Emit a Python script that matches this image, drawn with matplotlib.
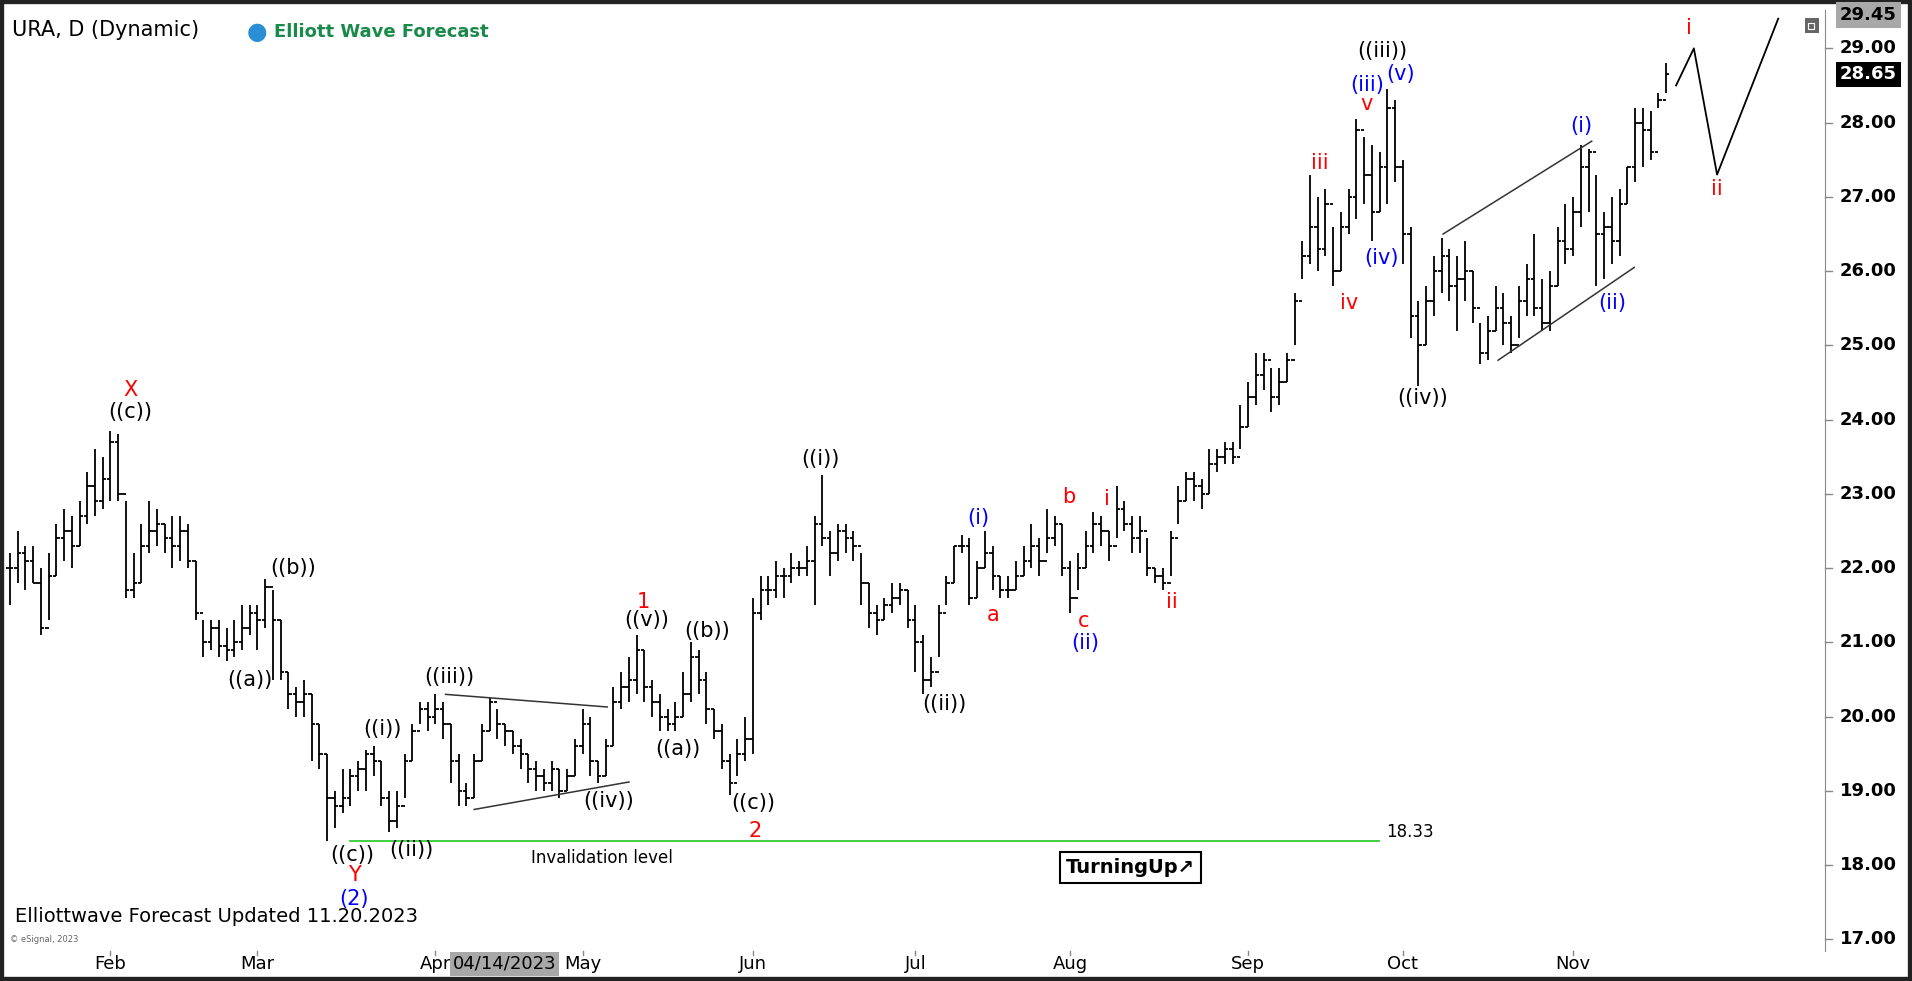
import matplotlib
matplotlib.use("Agg")
import matplotlib.pyplot as plt
import numpy as np
import pandas as pd
from matplotlib.patches import Rectangle

# ---------------- data ----------------
holidays = ["2023-01-16", "2023-02-20", "2023-04-07", "2023-05-29", "2023-06-19", "2023-07-04", "2023-09-04"]
dates = [d for d in pd.bdate_range("2023-01-12", "2023-11-17") if d.strftime("%Y-%m-%d") not in holidays]

closes = [
 # Jan
 22.0,22.2,22.1,21.8,21.2,21.9,22.4,22.5,22.3,22.7,23.1,22.9,23.2,
 # Feb
 23.7,23.0,21.7,21.8,22.3,22.5,22.6,22.4,22.3,22.5,22.1,21.4,21.0,21.2,20.95,20.9,21.0,21.2,21.4,
 # Mar
 21.3,21.75,21.3,20.6,20.3,20.2,20.3,19.9,19.5,18.9,18.8,18.9,19.2,19.3,19.5,19.4,18.9,18.6,18.8,19.4,19.8,20.1,20.0,
 # Apr
 20.1,19.9,19.4,19.0,18.9,19.4,19.8,20.2,19.9,19.8,19.6,19.5,19.3,19.2,19.1,19.3,19.0,19.2,19.6,
 # May
 19.9,19.4,19.2,19.6,20.2,20.4,20.5,20.9,20.4,20.2,20.0,19.9,20.0,20.3,20.8,20.5,20.1,19.8,19.4,19.1,19.5,19.7,
 # Jun
 21.4,21.7,21.7,21.9,21.9,22.0,22.0,22.1,22.6,22.4,22.2,22.5,22.4,22.3,21.8,21.4,21.3,21.5,21.6,21.7,21.3,
 # Jul
 21.0,20.5,20.6,21.4,21.8,22.3,22.3,21.6,22.0,22.2,21.9,21.7,21.7,21.9,22.1,22.3,22.1,22.4,22.6,22.0,
 # Aug
 21.6,22.0,22.3,22.6,22.5,22.3,22.8,22.6,22.4,22.5,22.0,21.9,21.8,22.4,22.9,23.2,23.1,23.0,23.4,23.5,23.6,23.5,23.9,
 # Sep
 24.3,24.6,24.8,24.3,24.5,24.8,25.6,26.2,26.6,26.3,26.9,26.0,26.6,27.0,27.9,27.3,26.8,27.4,28.2,27.4,
 # Oct
 26.5,25.4,25.0,25.6,26.0,26.2,25.8,25.9,26.0,25.5,24.9,25.2,25.5,25.3,25.0,25.6,25.9,25.5,25.3,25.8,26.4,26.3,
 # Nov
 26.8,27.4,27.6,26.5,26.6,26.4,26.9,27.4,28.0,27.9,27.6,28.3,28.65,
]
highs = [
 22.2,22.5,22.3,22.3,22.0,22.2,22.6,22.8,22.7,22.9,23.3,23.6,23.5,
 23.85,23.8,22.9,22.2,22.6,22.9,22.8,22.6,22.7,22.7,22.6,22.1,21.3,21.3,21.3,21.2,21.3,21.5,21.5,
 21.5,21.85,21.7,21.3,20.6,20.4,20.5,20.3,19.9,19.5,19.0,19.3,19.3,19.4,19.55,19.6,19.4,19.0,19.0,19.5,19.9,20.2,20.2,
 20.3,20.2,19.9,19.5,19.1,19.5,19.9,20.25,20.1,19.9,19.8,19.7,19.5,19.4,19.3,19.4,19.3,19.3,19.7,
 20.1,20.0,19.4,19.7,20.4,20.6,20.8,21.1,20.9,20.5,20.3,20.1,20.2,20.6,21.0,20.9,20.6,20.1,19.9,19.5,19.7,20.0,
 21.6,21.9,21.9,22.1,22.0,22.2,22.1,22.3,22.7,23.25,22.5,22.6,22.6,22.5,22.2,21.8,21.5,21.6,21.8,21.8,21.7,
 21.5,21.1,20.8,21.5,21.9,22.3,22.45,22.4,22.1,22.5,22.3,21.9,21.9,22.1,22.3,22.6,22.4,22.8,22.7,22.6,
 22.1,22.2,22.5,22.75,22.7,22.5,23.1,22.9,22.7,22.7,22.4,22.0,22.0,22.5,23.1,23.3,23.3,23.2,23.6,23.6,23.7,23.7,24.2,
 24.5,24.9,24.9,24.7,24.7,24.9,25.7,26.4,27.3,27.0,27.1,26.6,26.8,27.1,28.05,27.8,27.7,27.6,28.45,28.3,
 27.5,26.6,25.6,25.8,26.2,26.45,26.3,26.2,26.4,26.0,25.3,25.4,25.8,25.7,25.4,25.8,26.1,26.5,25.9,26.0,26.6,26.9,
 27.0,27.7,27.65,27.3,26.8,27.0,27.1,27.4,28.2,28.2,28.15,28.4,28.8,
]
lows = [
 21.5,21.8,21.7,21.8,21.1,21.3,21.9,22.1,22.0,22.3,22.6,22.7,22.8,
 22.9,22.9,21.6,21.6,21.8,22.2,22.3,22.2,22.0,22.1,22.0,21.3,20.8,20.9,20.8,20.75,20.8,20.9,21.1,
 20.9,21.2,20.5,20.5,20.1,20.0,20.0,19.4,19.3,18.33,18.5,18.7,18.8,19.0,19.0,19.2,18.8,18.45,18.5,18.9,19.4,19.9,19.8,
 19.9,19.7,19.1,18.8,18.8,18.9,19.4,19.8,19.7,19.6,19.5,19.3,19.1,19.0,19.0,19.0,18.9,19.0,19.2,
 19.5,19.2,19.1,19.2,19.6,20.1,20.2,20.3,20.2,20.0,19.8,19.8,19.8,20.0,20.2,20.3,19.9,19.7,19.3,18.95,19.2,19.4,
 19.5,21.3,21.5,21.6,21.6,21.8,21.9,21.9,21.5,22.3,21.9,22.1,22.2,22.1,21.5,21.2,21.1,21.3,21.4,21.5,21.2,
 20.6,20.3,20.4,20.8,21.5,21.8,22.2,21.5,21.6,22.0,21.7,21.6,21.6,21.7,21.9,22.0,21.9,22.2,22.3,21.9,
 21.4,21.7,22.0,22.2,22.3,22.1,22.4,22.5,22.2,22.2,21.9,21.8,21.7,21.9,22.6,22.9,22.9,22.8,23.0,23.3,23.4,23.4,23.6,
 23.9,24.2,24.4,24.1,24.2,24.5,25.0,25.9,26.1,26.0,26.2,25.8,26.0,26.5,26.7,26.9,26.4,26.8,26.9,27.2,
 26.1,25.1,24.45,25.0,25.4,25.7,25.6,25.2,25.6,25.3,24.75,24.8,25.2,25.0,24.9,25.1,25.4,25.4,25.2,25.2,25.8,26.1,
 26.2,26.6,26.8,25.8,25.9,26.1,26.2,26.9,27.2,27.4,27.5,28.2,28.4,
]
opens = [closes[0]] + closes[:-1]
month_names = ["Feb", "Mar", "Apr", "May", "Jun", "Jul", "Aug", "Sep", "Oct", "Nov"]

# ---------------- figure ----------------
W, H = 1568.0, 805.0
def fx(x): return x / W
def fy(y): return 1 - y / H

fig = plt.figure(figsize=(19.12, 9.81), dpi=100)
fig.patch.set_facecolor("white")
ax = fig.add_axes([fx(3), fy(780), fx(1497) - fx(3), fy(8) - fy(780)])
ax.set_facecolor("white")

idx = np.arange(len(closes))
ax.vlines(idx, lows, highs, color="black", lw=1.3)
ax.hlines(opens, idx - 0.45, idx, color="black", lw=1.3)
ax.hlines(closes, idx, idx + 0.45, color="black", lw=1.3)

ax.set_xlim(-0.8, 234.6)
ax.set_ylim(16.85, 29.52)
ax.set_xticks([])
ax.set_yticks([])
for s in ["top", "left", "bottom"]:
    ax.spines[s].set_visible(False)
ax.spines["right"].set_color("#888888")

# trend lines
ax.plot([56.3, 77.2], [20.3, 20.13], color="#333333", lw=1.1)
ax.plot([60.0, 80.0], [18.75, 19.12], color="#333333", lw=1.1)
ax.plot([185.2, 204.4], [26.5, 27.75], color="#333333", lw=1.1)
ax.plot([192.3, 209.9], [24.8, 26.05], color="#333333", lw=1.1)
ax.plot([44, 176.9], [18.33, 18.33], color="#33cc33", lw=1.3)
ax.text(177.8, 18.45, "18.33", fontsize=12, color="black", va="center")
ax.text(67.3, 18.1, "Invalidation level", fontsize=12, color="black", va="center")
# projection
ax.plot([215.3, 217.6, 220.6, 228.5], [28.5, 29.0, 27.3, 29.4], color="black", lw=1.3)

labels = [
 ("X", 15.6, 24.4, "red"), ("((c))", 15.6, 24.1, "black"),
 ("((b))", 36.6, 22.0, "black"), ("((a))", 31.0, 20.5, "black"),
 ("((c))", 44.2, 18.13, "black"), ("Y", 44.5, 17.87, "red"), ("(2)", 44.5, 17.54, "blue"),
 ("((i))", 48.1, 19.84, "black"), ("((ii))", 51.9, 18.2, "black"),
 ("((iii))", 56.8, 20.53, "black"), ("((iv))", 77.4, 18.87, "black"),
 ("1", 81.9, 21.55, "red"), ("((v))", 82.3, 21.3, "black"),
 ("((a))", 86.3, 19.56, "black"), ("((b))", 90.1, 21.15, "black"),
 ("((c))", 96.1, 18.84, "black"), ("2", 96.3, 18.46, "red"),
 ("((i))", 104.7, 23.47, "black"), ("((ii))", 120.8, 20.17, "black"),
 ("(i)", 125.2, 22.68, "blue"), ("a", 127.0, 21.37, "red"),
 ("b", 136.8, 22.96, "red"), ("c", 138.7, 21.29, "red"), ("(ii)", 138.9, 20.99, "blue"),
 ("i", 141.7, 22.93, "red"), ("ii", 150.2, 21.55, "red"),
 ("iii", 169.3, 27.46, "red"), ("iv", 173.1, 25.57, "red"),
 ("v", 175.3, 28.25, "red"), ("(iii)", 175.4, 28.5, "blue"),
 ("((iii))", 177.4, 28.97, "black"), ("(v)", 179.7, 28.65, "blue"),
 ("(iv)", 177.2, 26.18, "blue"), ("((iv))", 182.6, 24.29, "black"),
 ("(i)", 203.1, 27.95, "blue"), ("(ii)", 207.1, 25.57, "blue"),
 ("i", 217.0, 29.27, "red"), ("ii", 220.6, 27.1, "red"),
]
for t, x, y, c in labels:
    ax.text(x, y, t, color=c, fontsize=15, ha="center", va="center")

# month labels
month_pos = {}
for i, d in enumerate(dates):
    if d.month not in month_pos:
        month_pos[d.month] = i
for m, name in zip(range(2, 12), month_names):
    i = month_pos[m]
    xf = ax.transData.transform((i, 0))[0] / fig.bbox.width
    fig.text(xf, fy(791), name, fontsize=13, ha="center", va="center")
    fig.add_artist(plt.Line2D([xf, xf], [fy(780), fy(784)], color="#888888", lw=1))

# date cursor box
fig.text(fx(414), fy(791), "04/14/2023", fontsize=13, ha="center", va="center",
         bbox=dict(boxstyle="square,pad=0.15", fc="#a8a8a8", ec="none"))

# right price axis
for p in [17, 18, 19, 20, 21, 22, 23, 24, 25, 26, 27, 28, 29]:
    yf = ax.transData.transform((0, p))[1] / fig.bbox.height
    fig.text(fx(1509), yf, f"{p:.2f}", fontsize=13, fontweight="bold", va="center")
    fig.add_artist(plt.Line2D([fx(1497), fx(1502)], [yf, yf], color="#888888", lw=1))
yf = ax.transData.transform((0, 29.45))[1] / fig.bbox.height
fig.text(fx(1509), yf, "29.45", fontsize=13, fontweight="bold", va="center",
         bbox=dict(boxstyle="square,pad=0.2", fc="#a8a8a8", ec="none"))
yf = ax.transData.transform((0, 28.65))[1] / fig.bbox.height
fig.text(fx(1509), yf, "28.65", fontsize=13, fontweight="bold", va="center", color="white",
         bbox=dict(boxstyle="square,pad=0.2", fc="black", ec="none"))

# header texts
fig.text(fx(10), fy(25), "URA, D (Dynamic)", fontsize=15, va="center")
fig.text(fx(211), fy(26), "\u25CF", fontsize=17, color="#2a8fd4", ha="center", va="center")
fig.text(fx(225), fy(26), "Elliott Wave Forecast", fontsize=13, fontweight="bold", color="#1a8a4a", va="center")
fig.text(fx(12), fy(752), "Elliottwave Forecast Updated 11.20.2023", fontsize=14, va="center")
fig.text(fx(8), fy(771), "\u00a9 eSignal, 2023", fontsize=6, color="#666666", va="center")
fig.text(fx(927), fy(712), "TurningUp\u2197", fontsize=14, fontweight="bold", ha="center", va="center",
         bbox=dict(boxstyle="square,pad=0.3", fc="white", ec="black", lw=1.5))
# restore-window icon
fig.add_artist(Rectangle((fx(1480), fy(27)), fx(12), fy(15) - fy(27), transform=fig.transFigure,
                         fc="#666666", ec="none"))
fig.add_artist(Rectangle((fx(1483), fy(24)), fx(5), fy(19) - fy(24), transform=fig.transFigure,
                         fc="none", ec="white", lw=0.8))

# outer dark frame
fig.add_artist(Rectangle((0, 0), 1, 1, transform=fig.transFigure, fill=False, ec="#222222", lw=6))

fig.savefig("out.png", dpi=100)
